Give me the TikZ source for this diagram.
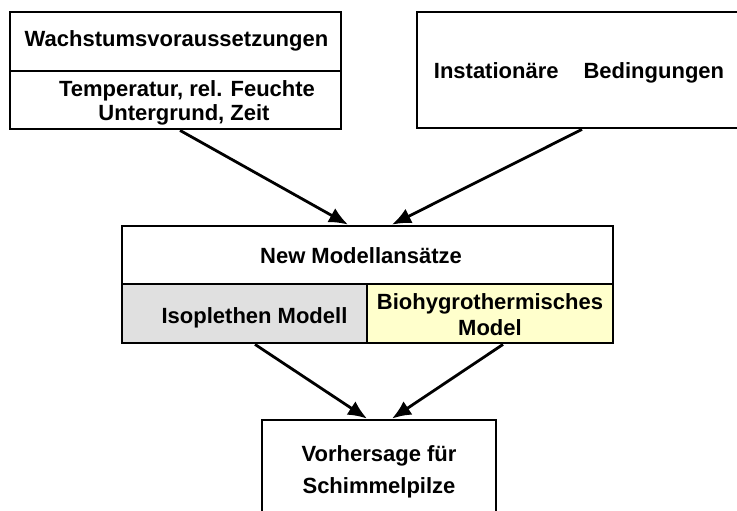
\documentclass[tikz,border=0pt]{standalone}
\usepackage{fontspec}
\setmainfont{Liberation Sans}
\usetikzlibrary{arrows.meta}
\definecolor{isogray}{HTML}{E0E0E0}
\definecolor{bioyellow}{HTML}{FFFFCC}
\begin{document}
\begin{tikzpicture}[x=1pt,y=-1pt,
  box/.style={draw, line width=2.8pt, inner sep=0pt},
  lbl/.style={anchor=base, inner sep=0pt, font=\fontsize{22}{25}\selectfont\bfseries},
  arr/.style={line width=2.8pt, -{Latex[length=19pt,width=16pt]}}]
\useasboundingbox (0,0) rectangle (737,511);
% boxes
\node[box, minimum width=331pt, minimum height=59pt] (wachtop) at (175.5,41.5) {};
\node[box, minimum width=331pt, minimum height=58pt] (wachbot) at (175.5,100) {};
\node[box, minimum width=343pt, minimum height=116pt] (inst) at (588.5,70) {};
\node[box, minimum width=491pt, minimum height=58pt] (neu) at (367.5,255) {};
\node[box, fill=isogray, minimum width=245pt, minimum height=59pt] (iso) at (244.5,313.5) {};
\node[box, fill=bioyellow, minimum width=246pt, minimum height=59pt] (bio) at (490,313.5) {};
\node[box, minimum width=234pt, minimum height=120pt] (vorh) at (379,480) {};
% labels
\node[lbl] (t1) at (176.5,47) {Wachstumsvoraussetzungen};
\node[lbl] (t2) at (187,96) {Temperatur, rel. Feuchte};
\node[lbl] (t3) at (184,121) {Untergrund, Zeit};
\node[lbl] (t4) at (579,78) {Instationäre\hspace{25pt}Bedingungen};
\node[lbl] (t5) at (361,263) {New Modellansätze};
\node[lbl] (t6) at (254.5,323) {Isoplethen Modell};
\node[lbl] (t7) at (490,309) {Biohygrothermisches};
\node[lbl] (t8) at (490,335) {Model};
\node[lbl] (t9) at (379,461) {Vorhersage für};
\node[lbl] (t10) at (379,493) {Schimmelpilze};
% arrows
\draw[arr] ([xshift=4.5pt]wachbot.south) -- ([xshift=-19.5pt]neu.north);
\draw[arr] ([xshift=-6.5pt]inst.south) -- ([xshift=24.5pt]neu.north);
\draw[arr] ([xshift=10.5pt]iso.south) -- ([xshift=-12pt]vorh.north);
\draw[arr] ([xshift=13pt]bio.south) -- ([xshift=13pt]vorh.north);
\end{tikzpicture}
\end{document}
